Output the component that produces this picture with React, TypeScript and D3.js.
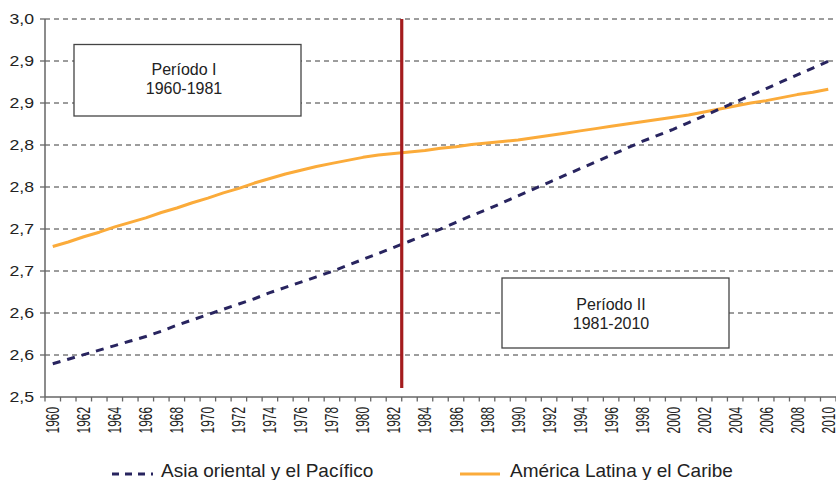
import React from "react";
import * as d3 from "d3";

const years: number[] = [
  1960, 1961, 1962, 1963, 1964, 1965, 1966, 1967, 1968, 1969,
  1970, 1971, 1972, 1973, 1974, 1975, 1976, 1977, 1978, 1979,
  1980, 1981, 1982, 1983, 1984, 1985, 1986, 1987, 1988, 1989,
  1990, 1991, 1992, 1993, 1994, 1995, 1996, 1997, 1998, 1999,
  2000, 2001, 2002, 2003, 2004, 2005, 2006, 2007, 2008, 2009, 2010,
];

const asiaValues: number[] = [
  2.544, 2.55, 2.556, 2.562, 2.568, 2.574, 2.58, 2.587, 2.595, 2.602,
  2.609, 2.616, 2.623, 2.63, 2.638, 2.645, 2.652, 2.659, 2.666, 2.674,
  2.682, 2.69, 2.698, 2.706, 2.714, 2.722, 2.731, 2.74, 2.748, 2.757,
  2.766, 2.775, 2.784, 2.793, 2.802, 2.811, 2.82, 2.829, 2.838, 2.846,
  2.854, 2.863, 2.872, 2.881, 2.89, 2.899, 2.908, 2.917, 2.926, 2.935, 2.944,
];

const latamValues: number[] = [
  2.699, 2.705, 2.712, 2.718, 2.725, 2.731, 2.737, 2.744, 2.75, 2.757,
  2.763, 2.77, 2.776, 2.783, 2.789, 2.795, 2.8, 2.805, 2.809, 2.813,
  2.817, 2.82, 2.822, 2.824, 2.826, 2.829, 2.831, 2.834, 2.836, 2.838,
  2.84, 2.843, 2.846, 2.849, 2.852, 2.855, 2.858, 2.861, 2.864, 2.867,
  2.87, 2.873, 2.877, 2.881, 2.885, 2.889, 2.892, 2.896, 2.9, 2.903, 2.907,
];

const yTickLabels: string[] = ["2,5", "2,6", "2,6", "2,7", "2,7", "2,8", "2,8", "2,9", "2,9", "3,0"];
const xTickYears: number[] = years.filter((_, i) => i % 2 === 0);
const seriesNames: string[] = ["Asia oriental y el Pacífico", "América Latina y el Caribe"];
const periodTitles: string[] = ["Período I", "Período II"];
const periodRanges: string[] = ["1960-1981", "1981-2010"];
const breakYear = 1983; // boundary between 1982 and 1983
const breakLineBottom = 2.512;

const W = 836;
const H = 480;
const FONT = "'Liberation Sans', Arial, Helvetica, sans-serif";
const NAVY = "#28245f";
const ORANGE = "#fbab3a";
const RED = "#a41c1e";

export default function App() {
  const left = 45;
  const right = 836;
  const top = 19;
  const bottom = 397;

  const x = d3.scaleBand<number>().domain(years).range([left, right]).padding(0);
  const y = d3.scaleLinear().domain([2.5, 3.0]).range([bottom, top]);
  const bw = x.bandwidth();
  const cx = (yr: number) => (x(yr) as number) + bw / 2;

  const yTicks = yTickLabels.map((_, i) => 2.5 + (i * 0.5) / 9);

  const line = d3
    .line<number>()
    .x((_, i) => cx(years[i]))
    .y((v) => y(v));

  const boundaries = years.map((yr) => x(yr) as number).concat([right]);

  const boxes = [
    { x0: 74, x1: 301, y0: 44.5, y1: 116, tx: 184, b1: 74.5, b2: 93.5 },
    { x0: 502, x1: 729, y0: 278, y1: 348, tx: 611, b1: 310, b2: 328.5 },
  ];

  const breakX = x(breakYear) as number;

  return (
    <svg
      width={W}
      height={H}
      viewBox={`0 0 ${W} ${H}`}
      style={{ position: "absolute", left: 0, top: 0, display: "block", background: "#fff" }}
      fontFamily={FONT}
    >
      <rect x={0} y={0} width={W} height={H} fill="#fff" />
      {/* gridlines */}
      {yTicks.slice(1).map((t, i) => (
        <line
          key={"g" + i}
          x1={left}
          x2={right}
          y1={y(t)}
          y2={y(t)}
          stroke="#3a3a3a"
          strokeWidth={1}
          strokeDasharray="5,4"
        />
      ))}
      {/* period boxes */}
      {boxes.map((b, i) => (
        <g key={"box" + i}>
          <rect
            x={b.x0}
            y={b.y0}
            width={b.x1 - b.x0}
            height={b.y1 - b.y0}
            fill="#fff"
            stroke="#444"
            strokeWidth={1.3}
          />
          <text x={b.tx} y={b.b1} textAnchor="middle" fontSize={16} fill="#222">
            {periodTitles[i]}
          </text>
          <text x={b.tx} y={b.b2} textAnchor="middle" fontSize={16} fill="#222">
            {periodRanges[i]}
          </text>
        </g>
      ))}
      {/* axes */}
      <line x1={left} x2={left} y1={top} y2={bottom} stroke="#666" strokeWidth={1.5} />
      <line x1={left} x2={right} y1={bottom} y2={bottom} stroke="#666" strokeWidth={1.5} />
      {yTicks.map((t, i) => (
        <g key={"yt" + i}>
          <line x1={40} x2={left} y1={y(t)} y2={y(t)} stroke="#666" strokeWidth={1.3} />
          <text
            transform={`translate(34,${y(t)}) scale(1.22,1)`}
            dy="0.36em"
            textAnchor="end"
            fontSize={14.5}
            fill="#222"
          >
            {yTickLabels[i]}
          </text>
        </g>
      ))}
      {boundaries.map((bx, i) => (
        <line key={"xt" + i} x1={bx} x2={bx} y1={bottom} y2={bottom + 4.5} stroke="#666" strokeWidth={1.3} />
      ))}
      {xTickYears.map((yr) => (
        <text
          key={"xl" + yr}
          transform={`translate(${cx(yr)},${407}) rotate(-90) scale(0.66,1)`}
          dy="0.36em"
          textAnchor="end"
          fontSize={18}
          fill="#222"
        >
          {yr}
        </text>
      ))}
      {/* series */}
      <path d={line(latamValues) || ""} fill="none" stroke={ORANGE} strokeWidth={3} strokeLinejoin="round" />
      <path
        d={line(asiaValues) || ""}
        fill="none"
        stroke={NAVY}
        strokeWidth={3}
        strokeDasharray="8,7"
      />
      {/* break line */}
      <line x1={breakX} x2={breakX} y1={y(3.0)} y2={y(breakLineBottom)} stroke={RED} strokeWidth={3.2} />
      {/* legend */}
      <line x1={112} x2={153} y1={474} y2={474} stroke={NAVY} strokeWidth={3} strokeDasharray="7,6" />
      <text x={161} y={477} fontSize={19} fill="#222">
        {seriesNames[0]}
      </text>
      <line x1={460} x2={500} y1={474} y2={474} stroke={ORANGE} strokeWidth={3} />
      <text x={510} y={477} fontSize={19} fill="#222">
        {seriesNames[1]}
      </text>
    </svg>
  );
}
